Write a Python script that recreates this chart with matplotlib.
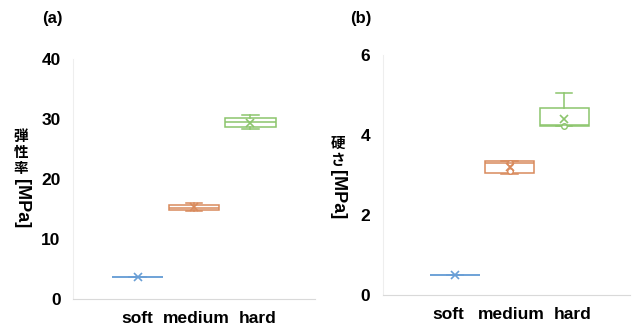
import matplotlib
matplotlib.use("Agg")
import matplotlib.pyplot as plt

categories = ["soft", "medium", "hard"]
colors = ["#6a9fd6", "#d98a5c", "#8cc56c"]

# panel (a): elastic modulus [MPa]
mod_lo = [3.6, 14.6, 28.3]
mod_q1 = [3.6, 14.8, 28.6]
mod_med = [3.6, 15.2, 29.4]
mod_q3 = [3.6, 15.7, 30.1]
mod_hi = [3.6, 15.9, 30.7]
mod_mean = [3.6, 15.3, 29.3]

# panel (b): hardness [MPa]
hard_lo = [0.5, 3.02, 4.23]
hard_q1 = [0.5, 3.05, 4.23]
hard_med = [0.5, 3.3, 4.25]
hard_q3 = [0.5, 3.35, 4.67]
hard_hi = [0.5, 3.35, 5.05]
hard_mean = [0.5, 3.2, 4.4]
hard_pts = [[], [3.1, 3.3], [4.23]]

plt.rcParams['font.family'] = ['Liberation Sans', 'DejaVu Sans']


def make_stats(lo, q1, med, q3, hi, mean, pts=None):
    stats = []
    for i in range(len(lo)):
        stats.append({
            "whislo": lo[i], "q1": q1[i], "med": med[i], "q3": q3[i],
            "whishi": hi[i], "mean": mean[i],
            "fliers": pts[i] if pts else [],
        })
    return stats


def draw(ax, stats, ylim, yticks, label_pos):
    for i, st in enumerate(stats):
        c = colors[i]
        ax.bxp([st], positions=[i + 1], widths=0.9, capwidths=0.3,
               showmeans=True, showfliers=True, patch_artist=True,
               manage_ticks=False,
               boxprops=dict(facecolor="white", edgecolor=c, linewidth=1.1),
               whiskerprops=dict(color=c, linewidth=1.1),
               capprops=dict(color=c, linewidth=1.1),
               medianprops=dict(color=c, linewidth=1.1),
               meanprops=dict(marker="x", markeredgecolor=c, markersize=6,
                              markeredgewidth=1.2),
               flierprops=dict(marker="o", markerfacecolor="white",
                               markeredgecolor=c, markersize=4))
    ax.set_ylim(*ylim)
    ax.set_yticks(yticks)
    # category labels sit a little off the box centres, as in the original
    ax.set_xticks(label_pos)
    ax.set_xticklabels(categories)
    ax.tick_params(length=0, labelsize=12.5, pad=9)
    for lab in ax.get_xticklabels() + ax.get_yticklabels():
        lab.set_fontweight("bold")
    for s in ["top", "right"]:
        ax.spines[s].set_visible(False)
    ax.spines["left"].set_color("#eeeeee")
    ax.spines["bottom"].set_color("#d9d9d9")


fig = plt.figure(figsize=(6.36, 3.27), dpi=100)

ax1 = fig.add_axes([0.115, 0.086, 0.38, 0.734])
draw(ax1, make_stats(mod_lo, mod_q1, mod_med, mod_q3, mod_hi, mod_mean),
     (0, 40), [0, 10, 20, 30, 40], [1.0, 2.04, 3.12])
ax1.set_xlim(-0.14, 4.14)

ax2 = fig.add_axes([0.602, 0.098, 0.388, 0.734])
draw(ax2, make_stats(hard_lo, hard_q1, hard_med, hard_q3, hard_hi, hard_mean, hard_pts),
     (0, 6), [0, 2, 4, 6], [0.88, 2.03, 3.16])
ax2.set_xlim(-0.32, 4.2)

jp = ['Noto Sans CJK JP', 'DejaVu Sans']

# y labels: kanji upright, unit rotated
def ylabel(x, ys, chars, unit_y, unit):
    for y, ch in zip(ys, chars):
        fig.text(x / 636, 1 - y / 327, ch, family=jp, fontsize=10.5,
                 fontweight="bold", ha="center", va="center")
    fig.text(x / 636, 1 - unit_y / 327, unit, fontsize=13, fontweight="bold",
             rotation=270, ha="center", va="center")


ylabel(21, [136, 152, 168], "弾性率", 204, "[MPa]")
ylabel(338, [143, 160], "硬さ", 195, "[MPa]")

fig.text(52 / 636, 1 - 18 / 327, "(a)", fontsize=12, fontweight="bold",
         ha="center", va="center")
fig.text(361 / 636, 1 - 18 / 327, "(b)", fontsize=12, fontweight="bold",
         ha="center", va="center")

fig.savefig("out.png", dpi=100)
